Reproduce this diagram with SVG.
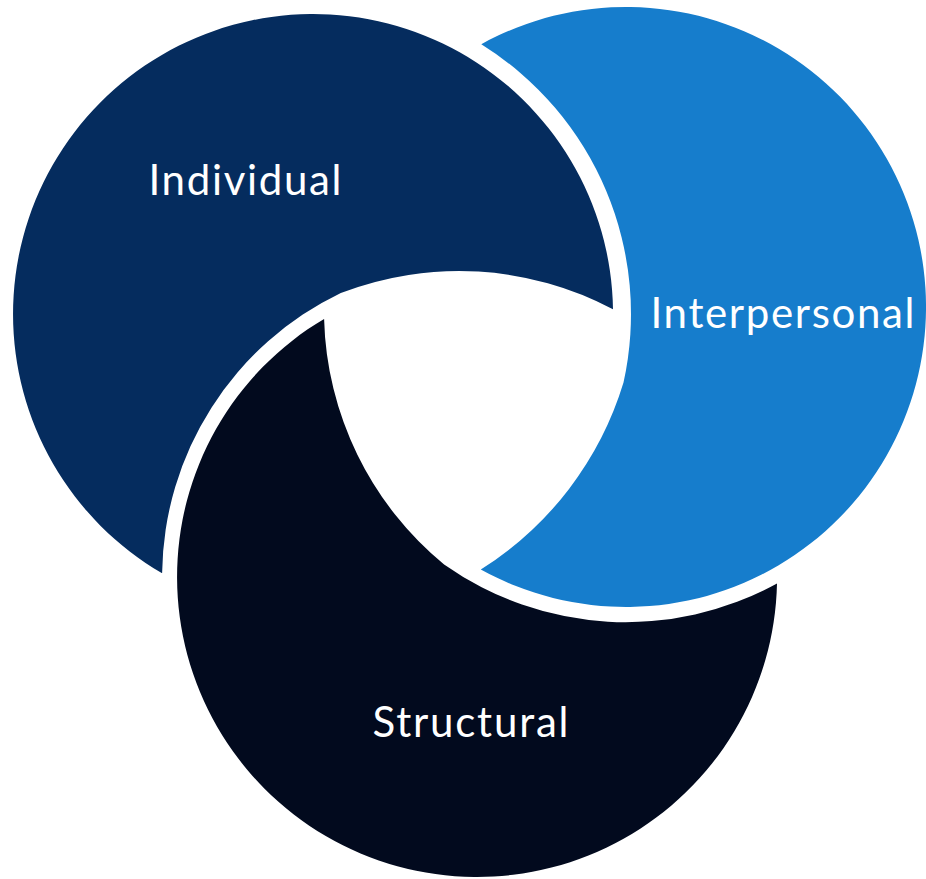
<svg xmlns="http://www.w3.org/2000/svg" width="926" height="879" viewBox="0 0 926 879">
  <style>
    .label { font-family: Lato, "Open Sans", "Liberation Sans", sans-serif; font-size: 42px; fill: #ffffff; text-anchor: start; }
    .individual { fill: #052c5e; }
    .interpersonal { fill: #167dcc; }
    .structural { fill: #020a1e; }
  </style>
  <rect x="0" y="0" width="926" height="879" fill="#ffffff"/>
  <g id="connectors"></g>
  <g id="node-individual">
    <path class="individual" d="M162.1,573.3 A300,300 0 1 1 613,309.2 A329,329 0 0 0 340.8,293 A315,315 0 0 0 162.1,573.3 Z"/>
    <text class="label" x="148.5" y="194.5" textLength="193">Individual</text>
  </g>
  <g id="node-interpersonal">
    <path class="interpersonal" d="M481.3,44.2 A300,300 0 1 1 480.8,569.5 A336,336 0 0 0 623.5,382.6 A318,318 0 0 0 481.3,44.2 Z"/>
    <text class="label" x="650.5" y="328" textLength="264">Interpersonal</text>
  </g>
  <g id="node-structural">
    <path class="structural" d="M777,583.5 A300,300 0 1 1 324.1,318.9 A329,329 0 0 0 444.1,564.5 A315,315 0 0 0 777,583.5 Z"/>
    <text class="label" x="372.5" y="736.5" textLength="196">Structural</text>
  </g>
</svg>
